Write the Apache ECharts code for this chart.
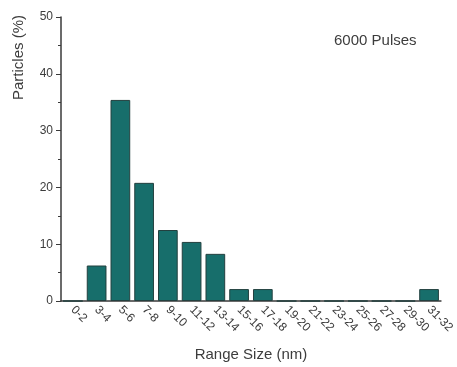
<!DOCTYPE html>
<html>
<head>
<meta charset="utf-8">
<script src="https://cdn.jsdelivr.net/npm/echarts@6/dist/echarts.min.js"></script>
<style>
  html, body { margin: 0; padding: 0; background: #fff; }
  #chart { width: 457px; height: 367px; }
</style>
</head>
<body>
<div id="chart"></div>
<script>
// size bins (nm) and share of particles (%) - 6000 pulses
var rangeLabels = ['0-2', '3-4', '5-6', '7-8', '9-10', '11-12', '13-14', '15-16',
    '17-18', '19-20', '21-22', '23-24', '25-26', '27-28', '29-30', '31-32'];
var particlePct = [0, 6.25, 35.4, 20.8, 12.5, 10.4, 8.3, 2.1,
    2.1, 0, 0, 0, 0, 0, 0, 2.1];
var yTicks = { min: 0, max: 50, interval: 10 };

var font = 'Liberation Sans, Arial, sans-serif';
var axisGray = '#3a3a3a';
var textGray = '#3c3c3c';

var chart = echarts.init(document.getElementById('chart'));
chart.setOption({
    animation: false,
    grid: { left: 61, right: 12, top: 17, bottom: 66 },
    xAxis: [{
        type: 'category',
        data: rangeLabels,
        axisLine: { lineStyle: { color: axisGray, width: 1.5 } },
        axisTick: { alignWithLabel: true, length: 5, lineStyle: { color: axisGray } },
        axisLabel: {
            rotate: -45, interval: 0, margin: 7,
            color: textGray, fontFamily: font, fontSize: 12
        },
        name: 'Range Size (nm)',
        nameLocation: 'middle',
        nameGap: 46,
        nameTextStyle: { color: textGray, fontFamily: font, fontSize: 15 }
    }, {
        // ticks on the bin edges
        type: 'category',
        data: rangeLabels,
        position: 'bottom',
        axisLine: { show: false },
        axisTick: { length: 5, interval: 0, lineStyle: { color: axisGray } },
        axisLabel: { show: false }
    }],
    yAxis: {
        type: 'value',
        min: yTicks.min, max: yTicks.max, interval: yTicks.interval,
        axisLine: { show: true, lineStyle: { color: axisGray, width: 1.5 } },
        axisTick: { show: true, length: 5, lineStyle: { color: axisGray } },
        minorTick: { show: true, splitNumber: 2, length: 3, lineStyle: { color: axisGray } },
        splitLine: { show: false },
        axisLabel: { color: textGray, fontFamily: font, fontSize: 12, margin: 8 }
    },
    graphic: [{
        type: 'text',
        left: 11, top: 15,
        style: { text: 'Particles (%)', fill: textGray, font: '15px ' + font },
        rotation: Math.PI / 2,
        originX: 0, originY: 0
    }, {
        type: 'text',
        left: 334, top: 33,
        style: { text: '6000 Pulses', fill: textGray, font: '15px ' + font }
    }],
    series: [{
        type: 'bar',
        data: particlePct,
        xAxisIndex: 0,
        barCategoryGap: '17%',
        itemStyle: { color: '#176e6b', borderColor: '#23403f', borderWidth: 1 }
    }]
});
</script>
</body>
</html>
